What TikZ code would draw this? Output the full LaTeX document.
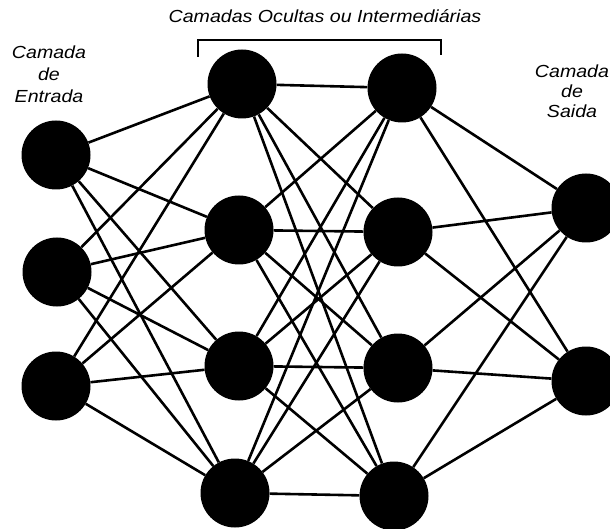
\documentclass[tikz,border=0pt]{standalone}
\usepackage{fontspec}
\newfontfamily\layerfont{Liberation Sans}[FakeStretch=1.12]

\begin{document}
\begin{tikzpicture}[x=1pt, y=-1pt]
    % Define styles
    \tikzset{
        neuron/.style={circle, fill=black, minimum size=69pt, inner sep=0pt},
        synapse/.style={line width=2.6pt},
        layerlabel/.style={font=\layerfont\itshape\fontsize{17.5}{22}\selectfont, align=center, inner sep=0pt, anchor=north},
        bracketline/.style={line width=2pt}
    }
    \useasboundingbox (0,0) rectangle (610,529);

    % Input layer
    \node[neuron] (in1) at (56,155) {};
    \node[neuron] (in2) at (57,272) {};
    \node[neuron] (in3) at (56,386) {};

    % First hidden layer
    \node[neuron] (ha1) at (242,84) {};
    \node[neuron] (ha2) at (239,230) {};
    \node[neuron] (ha3) at (239,366) {};
    \node[neuron] (ha4) at (235,493) {};

    % Second hidden layer
    \node[neuron] (hb1) at (402,88) {};
    \node[neuron] (hb2) at (398,232) {};
    \node[neuron] (hb3) at (398,368) {};
    \node[neuron] (hb4) at (394,496) {};

    % Output layer
    \node[neuron] (out1) at (586,208) {};
    \node[neuron] (out2) at (586,381) {};

    % Connections
    \foreach \i in {1,2,3} {
        \foreach \j in {1,2,3,4} {
            \draw[synapse] (in\i) -- (ha\j);
        }
    }
    \foreach \i in {1,2,3,4} {
        \foreach \j in {1,2,3,4} {
            \draw[synapse] (ha\i) -- (hb\j);
        }
    }
    \foreach \i in {1,2,3,4} {
        \foreach \j in {1,2} {
            \draw[synapse] (hb\i) -- (out\j);
        }
    }

    % Labels
    \node[font=\layerfont\itshape\fontsize{17.5}{20}\selectfont, anchor=base, inner sep=0pt] (hidlabel) at (325,23) {Camadas Ocultas ou Intermedi\'arias};
    \coordinate (brl) at (198,57);
    \coordinate (brr) at (441,55);
    \draw[bracketline] (brl) -- (brl |- 0,40) -- (brr |- 0,40) -- (brr);
    \node[layerlabel] (inlabel) at (49,46) {Camada\\de\\Entrada};
    \node[layerlabel, font=\layerfont\itshape\fontsize{17.5}{20}\selectfont] (outlabel) at (572,65) {Camada\\de\\Saida};

\end{tikzpicture}
\end{document}
